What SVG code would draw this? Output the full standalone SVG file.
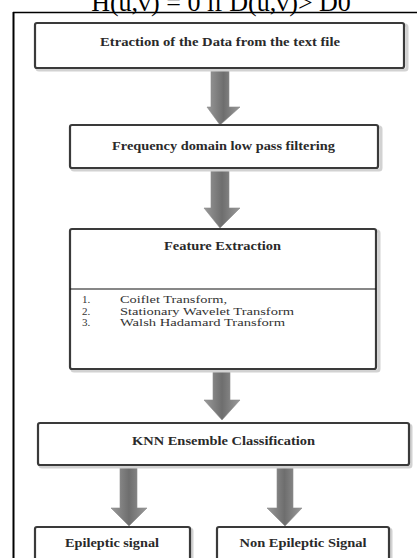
<svg xmlns="http://www.w3.org/2000/svg" width="417" height="558" viewBox="0 0 417 558">
<style>
.box{fill:#fff;stroke:#3a3a3a;stroke-width:2.2}
.sh{fill:none;stroke:#d2d2d2;stroke-width:3}
.t{font-family:"Liberation Serif","Times New Roman",serif;font-weight:bold;font-size:12px;fill:#2a2a2a;text-anchor:middle}
.l{font-family:"Liberation Serif","Times New Roman",serif;font-size:11px;fill:#333}
.arr{fill:url(#g);stroke:#8a8a8a;stroke-width:0.6}
</style>
<defs>
<linearGradient id="g" x1="0" y1="0" x2="1" y2="0">
<stop offset="0" stop-color="#9a9a9a"/>
<stop offset="0.5" stop-color="#6e6e6e"/>
<stop offset="1" stop-color="#9a9a9a"/>
</linearGradient>
</defs>
<rect width="417" height="558" fill="#fff"/>
<text x="221" y="11" font-family="Liberation Serif,serif" font-size="26" text-anchor="middle" fill="#000">H(u,v) = 0 if D(u,v)&gt; D0</text>
<g id="frame">
<line x1="13" y1="12.5" x2="417" y2="12.5" stroke="#000" stroke-width="1.6"/>
<line x1="13.5" y1="12" x2="13.5" y2="558" stroke="#000" stroke-width="2"/>
</g>
<g id="connectors">
<path class="arr" d="M211,69 H229 V107 H240 L220,125 L207,107 H211 Z"/>
<path class="arr" d="M211,168 H229 V208 H240 L220,228 L204,208 H211 Z"/>
<path class="arr" d="M213,369 H230 V400 H240 L222,420 L204,400 H213 Z"/>
<path class="arr" d="M120,467 H137 V508 H147 L129,526 L111,508 H120 Z"/>
<path class="arr" d="M277,467 H293 V508 H302 L285,526 L267,508 H277 Z"/>
</g>
<g id="n1">
<rect class="sh" x="37" y="25" width="370" height="45" rx="2"/>
<rect class="box" x="35" y="23" width="369" height="45" rx="2"/>
<text class="t" x="220" y="46" textLength="240" lengthAdjust="spacingAndGlyphs">Etraction of the Data from the text file</text>
</g>
<g id="n2">
<rect class="sh" x="72" y="127" width="309" height="43" rx="2"/>
<rect class="box" x="70" y="125" width="308" height="43" rx="2"/>
<text class="t" x="223.5" y="150" textLength="223" lengthAdjust="spacingAndGlyphs">Frequency domain low pass filtering</text>
</g>
<g id="n3">
<rect class="sh" x="72" y="231" width="307" height="140" rx="2"/>
<rect class="box" x="70" y="229" width="306" height="140" rx="2"/>
<text class="t" x="222.5" y="250" textLength="117" lengthAdjust="spacingAndGlyphs">Feature Extraction</text>
<line x1="70" y1="289" x2="376" y2="289" stroke="#111" stroke-width="1.2"/>
<text class="l" x="82" y="303">1.</text>
<text class="l" x="120" y="303" textLength="107" lengthAdjust="spacingAndGlyphs">Coiflet Transform,</text>
<text class="l" x="82" y="314.5">2.</text>
<text class="l" x="120" y="314.5" textLength="174" lengthAdjust="spacingAndGlyphs">Stationary Wavelet Transform</text>
<text class="l" x="82" y="326">3.</text>
<text class="l" x="120" y="326" textLength="165" lengthAdjust="spacingAndGlyphs">Walsh Hadamard Transform</text>
</g>
<g id="n4">
<rect class="sh" x="40" y="425" width="371" height="42" rx="2"/>
<rect class="box" x="38" y="423" width="371" height="42" rx="2"/>
<text class="t" x="223.5" y="445" textLength="183" lengthAdjust="spacingAndGlyphs">KNN Ensemble Classification</text>
</g>
<g id="n5">
<rect class="sh" x="37" y="529" width="155" height="40" rx="2"/>
<rect class="box" x="35" y="527" width="155" height="40" rx="2"/>
<text class="t" x="112" y="547" textLength="94" lengthAdjust="spacingAndGlyphs">Epileptic signal</text>
</g>
<g id="n6">
<rect class="sh" x="219" y="529" width="172" height="40" rx="2"/>
<rect class="box" x="217" y="527" width="172" height="40" rx="2"/>
<text class="t" x="303" y="547" textLength="127" lengthAdjust="spacingAndGlyphs">Non Epileptic Signal</text>
</g>
</svg>
